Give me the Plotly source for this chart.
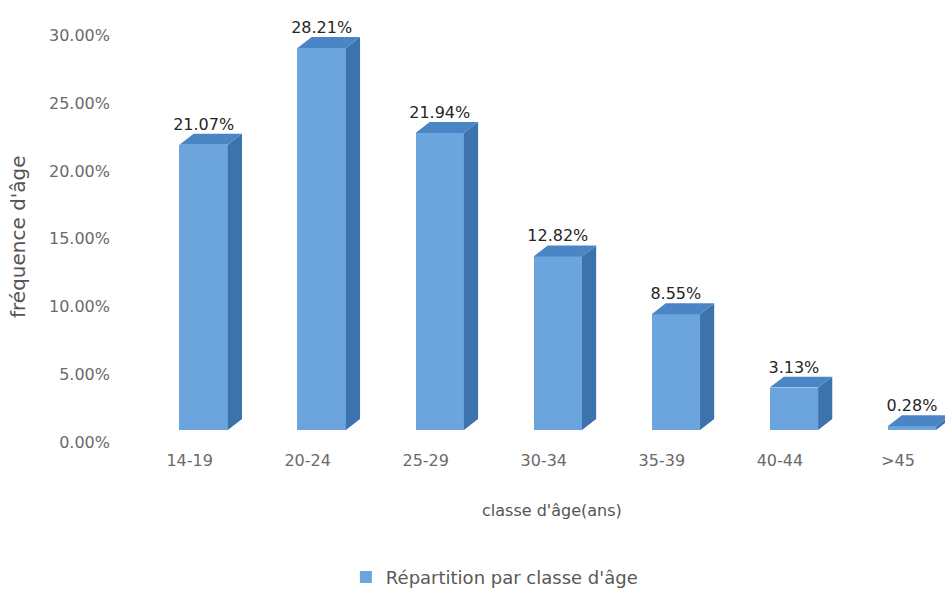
import plotly.graph_objects as go

categories = ["14-19", "20-24", "25-29", "30-34", "35-39", "40-44", ">45"]
values = [21.07, 28.21, 21.94, 12.82, 8.55, 3.13, 0.28]
value_labels = ["21.07%", "28.21%", "21.94%", "12.82%", "8.55%", "3.13%", "0.28%"]
y_ticks = [0, 5, 10, 15, 20, 25, 30]
y_tick_labels = ["0.00%", "5.00%", "10.00%", "15.00%", "20.00%", "25.00%", "30.00%"]
series_name = "Répartition par classe d'âge"

FRONT = "#6CA5DD"
SIDE = "#3C73AC"
TOP = "#4A86C5"
FONT = "DejaVu Sans"

x = list(range(len(categories)))
W = 0.41      # bar front width (x units)
DX = 0.12     # 3D depth, horizontal
DY = 0.81     # 3D depth, vertical (value units)

fig = go.Figure()
fig.add_trace(go.Bar(
    x=x, y=values, width=W, marker=dict(color=FRONT, line=dict(width=0)),
    name=series_name, showlegend=True, hoverinfo="skip",
))

# side faces
sx, sy = [], []
for xi, v in zip(x, values):
    r = xi + W / 2
    sx += [r, r + DX, r + DX, r, r, None]
    sy += [0, DY, v + DY, v, 0, None]
fig.add_trace(go.Scatter(x=sx, y=sy, fill="toself", fillcolor=SIDE, mode="lines",
                         line=dict(width=0, color=SIDE), showlegend=False, hoverinfo="skip"))

# top faces
tx, ty = [], []
for xi, v in zip(x, values):
    l, r = xi - W / 2, xi + W / 2
    tx += [l, r, r + DX, l + DX, l, None]
    ty += [v, v, v + DY, v + DY, v, None]
fig.add_trace(go.Scatter(x=tx, y=ty, fill="toself", fillcolor=TOP, mode="lines",
                         line=dict(width=0, color=TOP), showlegend=False, hoverinfo="skip"))

# value labels
fig.add_trace(go.Scatter(
    x=x, y=[v + DY for v in values], mode="text", text=value_labels,
    textposition="top center", textfont=dict(family=FONT, size=16, color="#262626"),
    showlegend=False, hoverinfo="skip", cliponaxis=False,
))

fig.update_layout(
    width=945, height=592,
    margin=dict(l=121, r=0, t=4, b=152),
    paper_bgcolor="white", plot_bgcolor="white",
    font=dict(family=FONT, color="#666666"),
    bargap=0,
    showlegend=True,
    legend=dict(orientation="h", xref="container", yref="container",
                x=0.366, y=0.025, xanchor="left", yanchor="middle",
                font=dict(family=FONT, size=18, color="#595959"),
                itemwidth=30, bgcolor="rgba(0,0,0,0)"),
    xaxis=dict(range=[-0.7, 6.28], tickvals=x, ticktext=categories,
               showgrid=False, zeroline=False, showline=False, ticks="",
               tickfont=dict(family=FONT, size=16, color="#6a6a6a"),
               ticklabelshift=-14, ticklabelstandoff=9, fixedrange=True),
    yaxis=dict(range=[-0.74, 31.46], tickvals=y_ticks, ticktext=y_tick_labels,
               showgrid=False, zeroline=False, showline=False, ticks="",
               tickfont=dict(family=FONT, size=16, color="#6a6a6a"),
               ticklabelshift=12, ticklabelstandoff=10, fixedrange=True),
    annotations=[
        dict(text="classe d'âge(ans)", xref="paper", yref="paper",
             x=(552 - 121) / 824, y=-(510 - 440) / 436, showarrow=False,
             xanchor="center", yanchor="middle",
             font=dict(family=FONT, size=16, color="#555555")),
        dict(text="fréquence d'âge", xref="paper", yref="paper",
             x=-(121 - 18) / 824, y=(440 - 237) / 436, showarrow=False,
             xanchor="center", yanchor="middle", textangle=-90,
             font=dict(family=FONT, size=20, color="#555555")),
    ],
)

fig.write_html("out.html")
